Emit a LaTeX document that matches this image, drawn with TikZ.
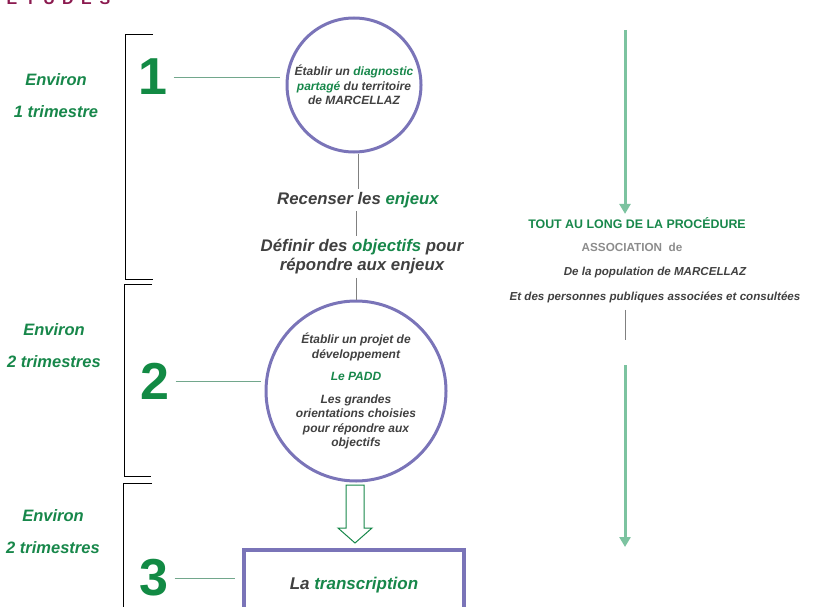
\documentclass[tikz,border=0pt]{standalone}
\usepackage{fontspec}
\setmainfont{Liberation Sans}
\usetikzlibrary{arrows.meta}
\definecolor{txtgray}{HTML}{404040}
\definecolor{hlgreen}{HTML}{17874A}
\definecolor{numgreen}{HTML}{128A44}
\definecolor{circpurple}{HTML}{7A74B8}
\definecolor{arrgreen}{HTML}{7CC3A0}
\definecolor{linkgreen}{HTML}{72A78C}
\definecolor{assocgray}{HTML}{8C8C8C}
\definecolor{titlered}{HTML}{8B1A4F}
\newcommand{\hl}[1]{\textcolor{hlgreen}{#1}}

\begin{document}
\begin{tikzpicture}[x=1pt, y=-1pt,
  phase/.style={font=\fontsize{16.5}{32}\selectfont\bfseries\itshape, text=hlgreen, align=center},
  num/.style={font=\fontsize{52}{52}\selectfont\bfseries, text=numgreen, inner sep=2pt},
  circ/.style={circle, draw=circpurple, line width=3pt, align=center, inner sep=0pt,
    font=\fontsize{12}{14.5}\selectfont\bfseries\itshape, text=txtgray},
  step text/.style={font=\fontsize{16.8}{19}\selectfont\bfseries\itshape, text=txtgray, align=center},
  side/.style={font=\fontsize{11.6}{13}\selectfont\bfseries\itshape, text=txtgray},
  link/.style={draw=linkgreen, line width=0.8pt},
  thin/.style={draw=gray, line width=0.7pt},
  bracket/.style={draw=black, line width=1pt},
  longarrow/.style={draw=arrgreen, line width=3pt, -{Triangle[width=11pt,length=10pt]}}]
  \clip (0,0) rectangle (821,607);

  % title, cut off at the top
  \foreach \ch [count=\i] in {É,T,U,D,E,S}
    \node[anchor=base, font=\fontsize{16}{16}\selectfont\bfseries, text=titlered]
      at (12+18.6*\i-18.6,5) {\ch};

  % brackets
  \draw[bracket] (153,35) -- (125,35) -- (125,279) -- (153,279);
  \draw[bracket] (152,284) -- (124,284) -- (124,476) -- (151,476);
  \draw[bracket] (152,483) -- (123,483) -- (123,607);

  % durations
  \node[phase] (dur1) at (56,96) {Environ\\1 trimestre};
  \node[phase] (dur2) at (54,346) {Environ\\2 trimestres};
  \node[phase] (dur3) at (53,532) {Environ\\2 trimestres};

  % steps
  \node[num] (num1) at (153,77) {1};
  \node[num] (num2) at (155,381) {2};
  \node[num] (num3) at (154,578) {3};

  \node[circ, minimum size=134pt] (circ1) at (354,85)
    {Établir un \hl{diagnostic}\\ \hl{partagé} du territoire\\ de MARCELLAZ};
  \node[step text] (recenser) at (358,200) {Recenser les \hl{enjeux}};
  \node[step text] (definir) at (362,257) {Définir des \hl{objectifs} pour\\ répondre aux enjeux};
  \node[circ, minimum size=180pt] (circ2) at (356,391)
    {Établir un projet de\\ développement\\[8pt] \hl{Le PADD}\\[8pt]
     Les grandes\\ orientations choisies\\ pour répondre aux\\ objectifs};
  \node[draw=circpurple, line width=3.5pt, minimum width=220pt, minimum height=70pt,
    font=\fontsize{17}{20}\selectfont\bfseries\itshape, text=txtgray] (transcr) at (354,585)
    {La \hl{transcription}};

  \draw[link, shorten <=4pt, shorten >=6pt] (num1.east) -- (num1 -| circ1.west);
  \draw[link, shorten <=4pt, shorten >=4pt] (num2.east) -- (num2 -| circ2.west);
  \draw[link, shorten <=4pt, shorten >=7pt] (num3.east) -- (num3 -| transcr.west);

  \draw[thin] (circ1.south -| recenser) -- (recenser.north);
  \draw[thin] (recenser.south -| circ2) -- (definir.north -| circ2);
  \draw[thin] (definir.south -| circ2) -- (circ2.north);

  % hollow arrow to the transcription
  \draw[draw=hlgreen, line width=1pt, line join=miter]
    (346,485) -- (364,485) -- (364,528) -- (372,528) -- (355,543)
    -- (338,528) -- (346,528) -- cycle;

  % right column
  \coordinate (top) at (625,30);
  \node[font=\fontsize{12.4}{14}\selectfont\bfseries, text=hlgreen] (tout) at (637,223)
    {TOUT AU LONG DE LA PROCÉDURE};
  \node[font=\fontsize{11.7}{13}\selectfont\bfseries, text=assocgray] (assoc) at (632,247)
    {ASSOCIATION\ \ de};
  \node[side] (popul) at (655,272) {De la population de MARCELLAZ};
  \node[side] (pers) at (655,297) {Et des personnes publiques associées et consultées};
  \coordinate (gap) at (625,340);
  \coordinate (restart) at (625,365);
  \coordinate (bottom) at (625,547);

  \draw[longarrow] (top) -- (top |- tout.north);
  \draw[thin] (pers.south -| gap) ++(0,4) -- (gap);
  \draw[longarrow] (restart) -- (bottom);
\end{tikzpicture}
\end{document}
